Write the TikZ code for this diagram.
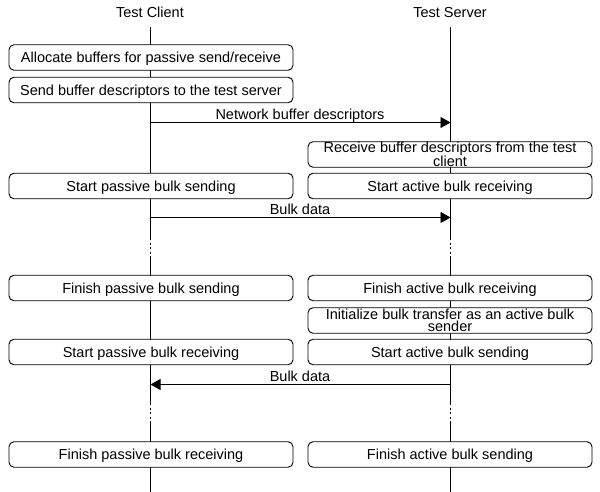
\documentclass[tikz,border=0pt]{standalone}
\usepackage{fontspec}
\setmainfont{Liberation Sans}
\usetikzlibrary{arrows.meta}
\begin{document}
\begin{tikzpicture}[x=1pt,y=-1pt,
  every node/.style={font=\fontsize{14.5}{12.5}\selectfont},
  box/.style={draw, line width=0.9pt, rounded corners=5pt, fill=white,
    minimum width=284pt, minimum height=25.5pt, inner sep=0pt,
    text height=10.5pt, text depth=0pt},
  boxtwo/.style={draw, line width=0.9pt, rounded corners=5pt, fill=white,
    minimum width=284pt, minimum height=25.5pt, inner sep=0pt, align=center},
  life/.style={line width=0.9pt},
  dots/.style={line width=0.9pt, dash pattern=on 2pt off 2.5pt},
  msg/.style={line width=0.9pt, -{Triangle[length=10pt,width=11pt]}},
  lbl/.style={anchor=base, inner sep=0pt},
]
\useasboundingbox (0,0) rectangle (600,492);

% titles
\node (tc) at (150,12.5) {Test Client};
\node (ts) at (450,12.5) {Test Server};

% lifeline coordinates
\coordinate (c0) at (150.5,27);
\coordinate (c1) at (150.5,238);
\coordinate (c2) at (150.5,256);
\coordinate (c3) at (150.5,403);
\coordinate (c4) at (150.5,423);
\coordinate (c5) at (150.5,492);
\coordinate (s0) at (450.5,27);
\coordinate (s1) at (450.5,238);
\coordinate (s2) at (450.5,256);
\coordinate (s3) at (450.5,403);
\coordinate (s4) at (450.5,423);
\coordinate (s5) at (450.5,492);

\draw[life] (c0) -- (c1) (c2) -- (c3) (c4) -- (c5);
\draw[dots] (c1) -- (c2) (c3) -- (c4);
\draw[life] (s0) -- (s1) (s2) -- (s3) (s4) -- (s5);
\draw[dots] (s1) -- (s2) (s3) -- (s4);

% boxes
\node[box] (b1) at (151,57.5) {Allocate buffers for passive send/receive};
\node[box] (b2) at (151,90) {Send buffer descriptors to the test server};
\node[boxtwo] (b3) at (450,154.5) {Receive buffer descriptors from the test\\client};
\node[box] (b4) at (151,186) {Start passive bulk sending};
\node[box] (b5) at (450,186) {Start active bulk receiving};
\node[box] (b6) at (151,288) {Finish passive bulk sending};
\node[box] (b7) at (450,288) {Finish active bulk receiving};
\node[boxtwo] (b8) at (450,320.5) {Initialize bulk transfer as an active bulk\\sender};
\node[box] (b9) at (151,352) {Start passive bulk receiving};
\node[box] (b10) at (450,352) {Start active bulk sending};
\node[box] (b11) at (151,454.5) {Finish passive bulk receiving};
\node[box] (b12) at (450,454.5) {Finish active bulk sending};

% messages
\coordinate (m1c) at (150.5,122.5);
\coordinate (m1s) at (450.5,122.5);
\coordinate (m2c) at (150.5,217.5);
\coordinate (m2s) at (450.5,217.5);
\coordinate (m3c) at (150.5,384.5);
\coordinate (m3s) at (450.5,384.5);
\draw[msg] (m1c) -- (m1s);
\draw[msg] (m2c) -- (m2s);
\draw[msg] (m3s) -- (m3c);
\node[lbl] (l1) at (300,119.5) {Network buffer descriptors};
\node[lbl] (l2) at (300,214.5) {Bulk data};
\node[lbl] (l3) at (300,381) {Bulk data};
\end{tikzpicture}
\end{document}
